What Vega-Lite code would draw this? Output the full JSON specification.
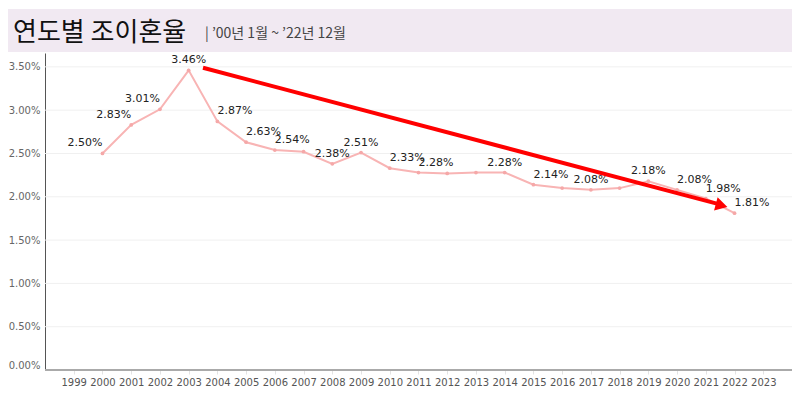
{
  "$schema": "https://vega.github.io/schema/vega-lite/v6.json",
  "padding": {"left": 8, "top": 9, "right": 0, "bottom": 0},
  "background": "white",
  "spacing": 1,
  "columns": 1,
  "align": "none",
  "bounds": "full",
  "config": {"view": {"stroke": null}, "font": "DejaVu Sans"},
  "title": {
    "text": "연도별 조이혼율",
    "anchor": "start",
    "frame": "group",
    "orient": "top",
    "offset": -37,
    "dx": 5,
    "font": "Noto Sans CJK KR",
    "fontSize": 26,
    "fontWeight": "normal",
    "color": "#111111"
  },
  "concat": [
    {
      "width": 784,
      "height": 43,
      "data": {"values": [{"banner": "연도별 조이혼율"}]},
      "mark": {"type": "rect", "color": "#f1e9f2"},
      "encoding": {},
      "title": {
        "text": "| ’00년 1월 ~ ’22년 12월",
        "anchor": "start",
        "frame": "group",
        "orient": "top",
        "offset": -32,
        "dx": 197,
        "font": "Noto Sans CJK KR",
        "fontSize": 14,
        "fontWeight": "normal",
        "color": "#444444"
      }
    },
    {
      "width": 784,
      "height": 317,
      "data": {"values": [
        {"year": 2000, "rate": 0.0250},
        {"year": 2001, "rate": 0.0283},
        {"year": 2002, "rate": 0.0301},
        {"year": 2003, "rate": 0.0346},
        {"year": 2004, "rate": 0.0287},
        {"year": 2005, "rate": 0.0263},
        {"year": 2006, "rate": 0.0254},
        {"year": 2007, "rate": 0.0252},
        {"year": 2008, "rate": 0.0238},
        {"year": 2009, "rate": 0.0251},
        {"year": 2010, "rate": 0.0233},
        {"year": 2011, "rate": 0.0228},
        {"year": 2012, "rate": 0.0227},
        {"year": 2013, "rate": 0.0228},
        {"year": 2014, "rate": 0.0228},
        {"year": 2015, "rate": 0.0214},
        {"year": 2016, "rate": 0.0210},
        {"year": 2017, "rate": 0.0208},
        {"year": 2018, "rate": 0.0210},
        {"year": 2019, "rate": 0.0218},
        {"year": 2020, "rate": 0.0208},
        {"year": 2021, "rate": 0.0198},
        {"year": 2022, "rate": 0.0181}
      ]},
      "layer": [
        {
          "data": {"values": [{"tick": 0.005}, {"tick": 0.01}, {"tick": 0.015}, {"tick": 0.02}, {"tick": 0.025}, {"tick": 0.03}, {"tick": 0.035}]},
          "mark": {"type": "rule", "color": "#f0f0f0", "strokeWidth": 1},
          "encoding": {
            "y": {"field": "tick", "type": "quantitative", "title": null},
            "x": {"datum": 1998},
            "x2": {"datum": 2024}
          }
        },
        {
          "mark": {"type": "rule", "color": "#aaaaaa", "strokeWidth": 1.5},
          "encoding": {
            "y": {"datum": 0},
            "x": {"datum": 1998},
            "x2": {"datum": 2024}
          }
        },
        {
          "mark": {"type": "line", "color": "#f8b4b4", "strokeWidth": 2, "point": {"filled": true, "size": 14, "color": "#f5a8a8"}},
          "encoding": {
            "x": {"field": "year", "type": "quantitative", "title": null,
              "scale": {"domain": [1996.7122, 2024], "nice": false, "zero": false},
              "axis": {"values": [1999,2000,2001,2002,2003,2004,2005,2006,2007,2008,2009,2010,2011,2012,2013,2014,2015,2016,2017,2018,2019,2020,2021,2022,2023],
                "tickCount": 40, "domain": false,
                "format": "d", "grid": false, "ticks": true, "tickSize": 4, "tickColor": "#e3e3e3",
                "labelPadding": 3, "labelFontSize": 10, "labelFont": "DejaVu Sans", "labelColor": "#555555",
                "labelFlush": false, "labelOverlap": false}},
            "y": {"field": "rate", "type": "quantitative", "title": null,
              "scale": {"domain": [0, 0.0366], "nice": false},
              "axis": {"values": [0, 0.005, 0.01, 0.015, 0.02, 0.025, 0.03, 0.035], "tickCount": 20, "format": ".2%",
                "offset": -37, "grid": false,
                "ticks": false, "labelPadding": 5, "labelFontSize": 10, "labelFont": "DejaVu Sans", "labelColor": "#666666",
                "domainColor": "#555555", "labelFlush": true}}
          }
        },
        {
          "transform": [{"filter": {"field": "year", "oneOf": [2000, 2001, 2002]}}],
          "mark": {"type": "text", "align": "right", "baseline": "middle", "dx": 0, "dy": -10, "fontSize": 11, "font": "DejaVu Sans", "color": "#222222"},
          "encoding": {
            "x": {"field": "year", "type": "quantitative", "title": null},
            "y": {"field": "rate", "type": "quantitative", "title": null},
            "text": {"field": "rate", "type": "quantitative", "format": ".2%"}
          }
        },
        {
          "transform": [{"filter": {"field": "year", "oneOf": [2003, 2008, 2009, 2014, 2017, 2019]}}],
          "mark": {"type": "text", "align": "center", "baseline": "middle", "dy": -10, "fontSize": 11, "font": "DejaVu Sans", "color": "#222222"},
          "encoding": {
            "x": {"field": "year", "type": "quantitative", "title": null},
            "y": {"field": "rate", "type": "quantitative", "title": null},
            "text": {"field": "rate", "type": "quantitative", "format": ".2%"}
          }
        },
        {
          "transform": [{"filter": {"field": "year", "oneOf": [2004, 2005, 2006, 2010, 2011, 2015, 2020, 2021, 2022]}}],
          "mark": {"type": "text", "align": "left", "baseline": "middle", "dx": 0, "dy": -10, "fontSize": 11, "font": "DejaVu Sans", "color": "#222222"},
          "encoding": {
            "x": {"field": "year", "type": "quantitative", "title": null},
            "y": {"field": "rate", "type": "quantitative", "title": null},
            "text": {"field": "rate", "type": "quantitative", "format": ".2%"}
          }
        },
        {
          "data": {"values": [{"x1": 2003.5, "y1": 0.0349, "x2": 2021.45, "y2": 0.01915}]},
          "mark": {"type": "rule", "color": "#ff0000", "strokeWidth": 4},
          "encoding": {
            "x": {"field": "x1", "type": "quantitative", "title": null},
            "y": {"field": "y1", "type": "quantitative", "title": null},
            "x2": {"field": "x2"},
            "y2": {"field": "y2"}
          }
        },
        {
          "data": {"values": [{"hx": 2021.55, "hy": 0.0190}]},
          "mark": {"type": "point", "shape": "triangle-right", "angle": 15, "size": 190, "filled": true, "color": "#ff0000", "opacity": 1},
          "encoding": {
            "x": {"field": "hx", "type": "quantitative", "title": null},
            "y": {"field": "hy", "type": "quantitative", "title": null}
          }
        }
      ]
    }
  ]
}
